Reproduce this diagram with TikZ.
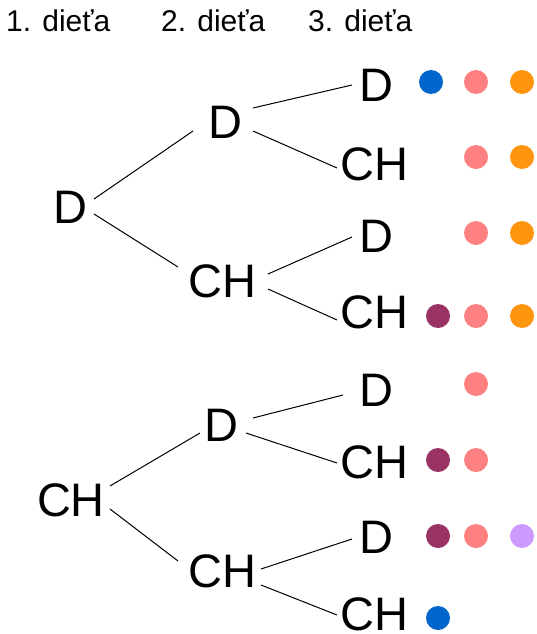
\documentclass[tikz,border=0pt]{standalone}
\usepackage{fontspec}
\setmainfont{Liberation Sans}
\definecolor{cblue}{HTML}{0066CC}
\definecolor{cpink}{HTML}{FF8080}
\definecolor{corange}{HTML}{FF950E}
\definecolor{cpurple}{HTML}{993366}
\definecolor{clilac}{HTML}{CC99FF}
\tikzset{
  lbl/.style={inner sep=0pt, anchor=base, font=\fontsize{47}{47}\selectfont},
  head/.style={inner sep=0pt, anchor=base west, font=\fontsize{30}{30}\selectfont},
  edge/.style={draw=black, line width=1pt},
  dot/.style={fill=#1}
}
\begin{document}
\begin{tikzpicture}[x=1pt, y=-1pt]
\useasboundingbox (0,0) rectangle (536,634);

% column headings
\node[head] (h1) at (6,32) {1. dieťa};
\node[head] (h2) at (161,32) {2. dieťa};
\node[head] (h3) at (308,32) {3. dieťa};

% first child
\node[lbl] (a)  at (70,223)  {D};
\node[lbl] (b)  at (71,516)  {CH};
% second child
\node[lbl] (aa) at (225.5,138) {D};
\node[lbl] (ab) at (222.5,297) {CH};
\node[lbl] (ba) at (221,441)   {D};
\node[lbl] (bb) at (222.5,587) {CH};
% third child
\node[lbl] (aaa) at (376,101)   {D};
\node[lbl] (aab) at (374.5,180) {CH};
\node[lbl] (aba) at (376.5,252) {D};
\node[lbl] (abb) at (374.5,328) {CH};
\node[lbl] (baa) at (376,406)   {D};
\node[lbl] (bab) at (374.5,478) {CH};
\node[lbl] (bba) at (376.5,553) {D};
\node[lbl] (bbb) at (374.5,630) {CH};

% branches
\draw[edge] ([shift={(24,-24)}]a.base) -- ([shift={(-32.5,-7)}]aa.base);
\draw[edge] ([shift={(24,-9)}]a.base) -- ([shift={(-44.5,-30)}]ab.base);
\draw[edge] ([shift={(27.5,-30)}]aa.base) -- ([shift={(-24,-16)}]aaa.base);
\draw[edge] ([shift={(27.5,-7)}]aa.base) -- ([shift={(-37.5,-12)}]aab.base);
\draw[edge] ([shift={(45.5,-23)}]ab.base) -- ([shift={(-24.5,-15)}]aba.base);
\draw[edge] ([shift={(45.5,-8)}]ab.base) -- ([shift={(-37.5,-8)}]abb.base);
\draw[edge] ([shift={(39,-30)}]b.base) -- ([shift={(-21,-8)}]ba.base);
\draw[edge] ([shift={(39,-7)}]b.base) -- ([shift={(-44.5,-26)}]bb.base);
\draw[edge] ([shift={(32,-23)}]ba.base) -- ([shift={(-33,-11)}]baa.base);
\draw[edge] ([shift={(25,-8)}]ba.base) -- ([shift={(-37.5,-15)}]bab.base);
\draw[edge] ([shift={(38.5,-18)}]bb.base) -- ([shift={(-24.5,-14)}]bba.base);
\draw[edge] ([shift={(38.5,-2)}]bb.base) -- ([shift={(-37.5,-15)}]bbb.base);

% coloured markers
\fill[dot=cblue]   (431,82) circle (12);
\fill[dot=cpink]   (476,82) circle (12);
\fill[dot=corange] (522,82) circle (12);

\fill[dot=cpink]   (476,157) circle (12);
\fill[dot=corange] (522,157) circle (12);

\fill[dot=cpink]   (476,233) circle (12);
\fill[dot=corange] (522,233) circle (12);

\fill[dot=cpurple] (438,316) circle (12);
\fill[dot=cpink]   (476,316) circle (12);
\fill[dot=corange] (522,316) circle (12);

\fill[dot=cpink]   (476,384) circle (12);

\fill[dot=cpurple] (438,460) circle (12);
\fill[dot=cpink]   (476,460) circle (12);

\fill[dot=cpurple] (438,536) circle (12);
\fill[dot=cpink]   (476,536) circle (12);
\fill[dot=clilac]  (522,536) circle (12);

\fill[dot=cblue]   (438,618) circle (12);
\end{tikzpicture}
\end{document}
